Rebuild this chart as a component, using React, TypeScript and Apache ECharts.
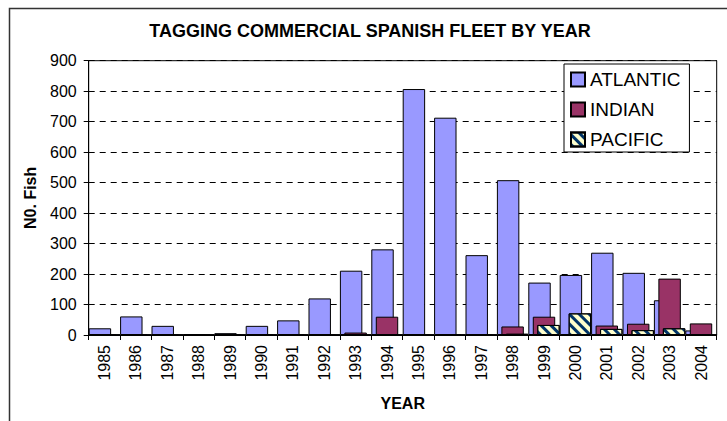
import React, { useEffect, useRef } from 'react';
import * as echarts from 'echarts';

const years = ['1985', '1986', '1987', '1988', '1989', '1990', '1991', '1992', '1993', '1994', '1995', '1996', '1997', '1998', '1999', '2000', '2001', '2002', '2003', '2004'];
const atlantic = [22, 61, 30, 3, 6, 30, 48, 120, 211, 281, 807, 713, 262, 508, 172, 197, 270, 204, 114, 15];
const indian = [0, 0, 0, 0, 0, 0, 0, 0, 8, 60, 0, 0, 0, 28, 60, 0, 31, 37, 185, 38];
const pacific = [0, 0, 0, 0, 0, 0, 0, 0, 0, 0, 0, 0, 0, 4, 33, 71, 20, 16, 22, 0];
const yTicks = { min: 0, max: 900, interval: 100 };

const FONT = "'Liberation Sans', Arial, sans-serif";

export default function App() {
  const ref = useRef<HTMLDivElement>(null);
  useEffect(() => {
    const chart = echarts.init(ref.current!, null, { renderer: 'svg', width: 727, height: 421 });
    const barBase = {
      type: 'bar',
      barCategoryGap: '0%',
      barGap: '-80%',
    };
    chart.setOption({
      animation: false,
      backgroundColor: '#ffffff',
      textStyle: { fontFamily: FONT },
      title: {
        text: 'TAGGING COMMERCIAL SPANISH FLEET BY YEAR',
        left: 370,
        top: 22,
        textAlign: 'center',
        padding: 0,
        textStyle: { fontFamily: FONT, fontSize: 18, fontWeight: 'bold', color: '#000' },
      },
      legend: {
        orient: 'vertical',
        left: 564,
        top: 64,
        width: 128,
        padding: [6, 9, 3, 6],
        itemWidth: 14,
        itemHeight: 14,
        itemGap: 11,
        itemTextGap: 4,
        icon: 'rect',
        backgroundColor: '#ffffff',
        borderColor: '#000',
        borderWidth: 1,
        textStyle: { fontFamily: FONT, fontSize: 19, color: '#000' },
        data: ['ATLANTIC', 'INDIAN', 'PACIFIC'],
      },
      grid: {
        left: 88.7,
        right: 10.3,
        top: 60.7,
        bottom: 86,
        show: true,
        borderColor: '#000',
        borderWidth: 1,
        containLabel: false,
      },
      xAxis: {
        type: 'category',
        data: years,
        name: 'YEAR',
        nameLocation: 'middle',
        nameGap: 60,
        nameTextStyle: { fontFamily: FONT, fontSize: 16, fontWeight: 'bold', color: '#000' },
        axisLine: { lineStyle: { color: '#000', width: 1 } },
        axisTick: { show: true, length: 5, lineStyle: { color: '#000' } },
        axisLabel: { rotate: 90, margin: 10, fontSize: 16, color: '#000', fontFamily: FONT },
      },
      yAxis: {
        type: 'value',
        min: yTicks.min,
        max: yTicks.max,
        interval: yTicks.interval,
        name: 'N0. Fish',
        nameLocation: 'middle',
        nameGap: 50,
        nameTextStyle: { fontFamily: FONT, fontSize: 16, fontWeight: 'bold', color: '#000' },
        axisLine: { show: true, lineStyle: { color: '#000', width: 1 } },
        axisTick: { show: true, length: 5, lineStyle: { color: '#000' } },
        axisLabel: { margin: 12, fontSize: 16, color: '#000', fontFamily: FONT },
        splitLine: { show: true, lineStyle: { color: '#000', width: 1, type: [6, 5] } },
      },
      graphic: [
        {
          type: 'rect',
          left: 7,
          top: 6,
          shape: { x: 0, y: 0, width: 800, height: 500 },
          style: { fill: 'none', stroke: '#333', lineWidth: 1.5 },
          silent: true,
          z: 100,
        },
      ],
      series: [
        {
          ...barBase,
          name: 'ATLANTIC',
          data: atlantic,
          itemStyle: { color: '#9999ff', borderColor: '#000', borderWidth: 1 },
        },
        {
          ...barBase,
          name: 'INDIAN',
          data: indian,
          itemStyle: { color: '#993366', borderColor: '#000', borderWidth: 1 },
        },
        {
          ...barBase,
          name: 'PACIFIC',
          data: pacific,
          itemStyle: {
            color: '#ffffcc',
            borderColor: '#000',
            borderWidth: 1,
            decal: {
              symbol: 'rect',
              symbolSize: 1,
              color: '#003366',
              dashArrayX: [1, 0],
              dashArrayY: [3, 4],
              rotation: Math.PI / 4,
            },
          },
        },
      ],
    });
    return () => chart.dispose();
  }, []);
  return (
    <div
      ref={ref}
      style={{ position: 'fixed', left: 0, top: 0, width: 727, height: 421, background: '#fff' }}
    />
  );
}
